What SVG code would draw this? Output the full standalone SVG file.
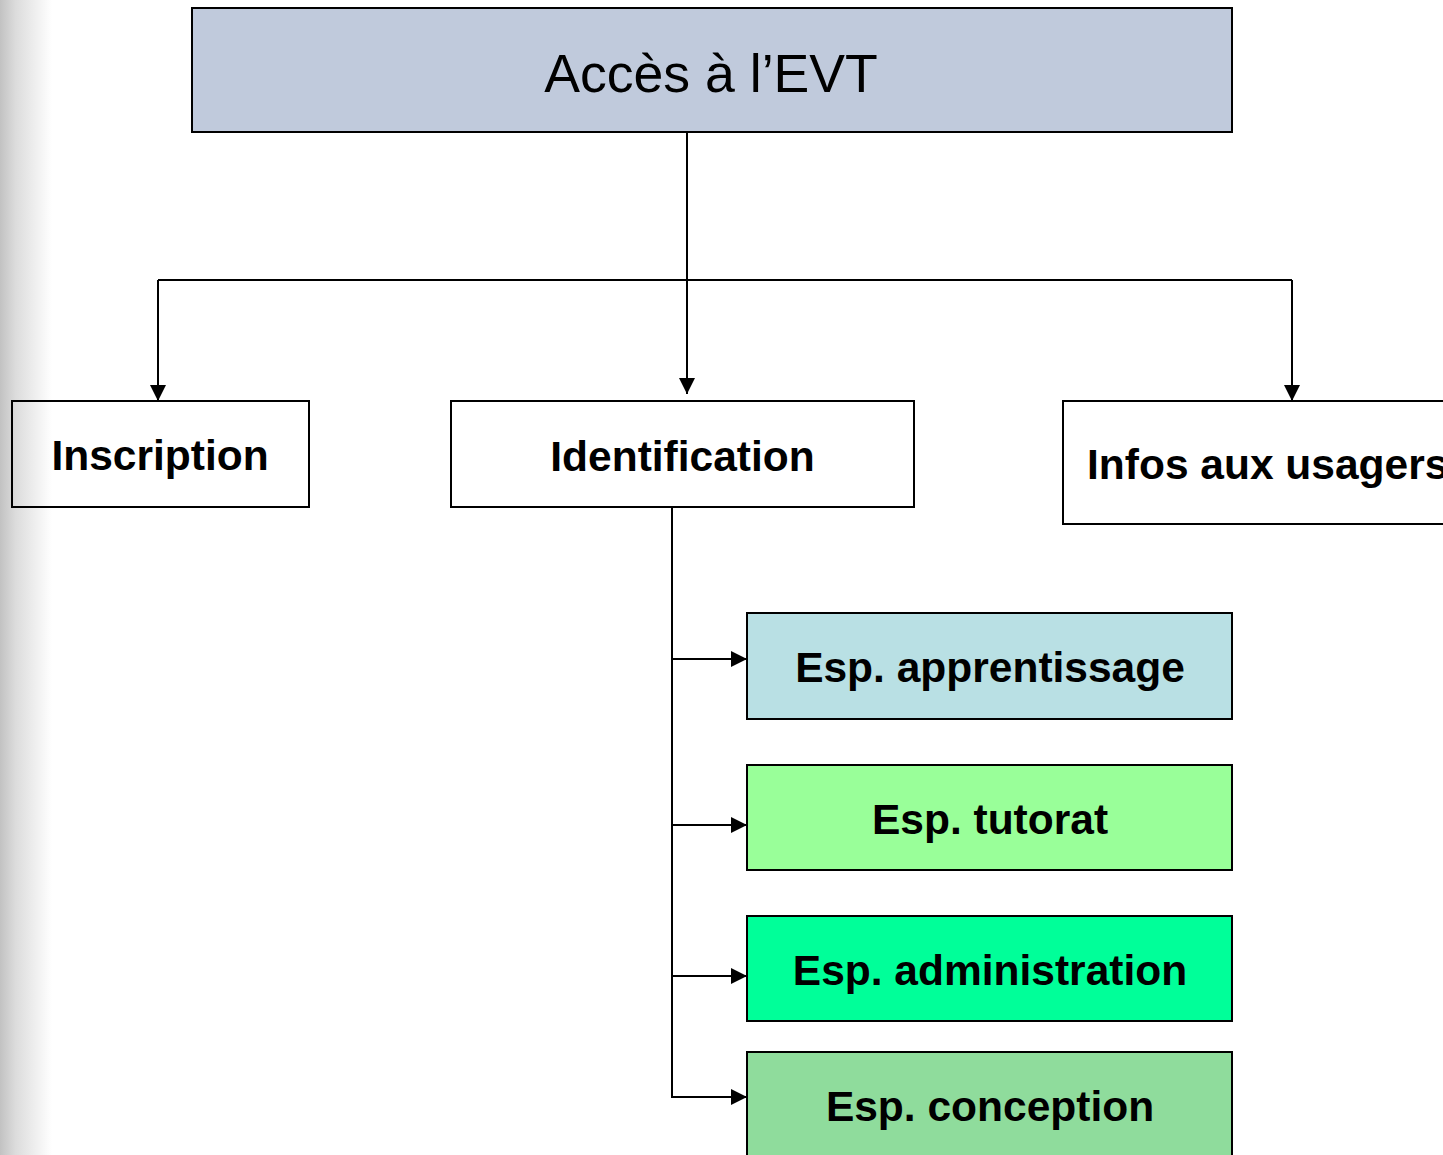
<svg xmlns="http://www.w3.org/2000/svg" width="1443" height="1155" viewBox="0 0 1443 1155">
<defs>
<linearGradient id="edge" x1="0" y1="0" x2="1" y2="0">
<stop offset="0" stop-color="#c2c2c2"/>
<stop offset="0.3" stop-color="#dcdcdc"/>
<stop offset="1" stop-color="#ffffff"/>
</linearGradient>
<marker id="arr" markerUnits="userSpaceOnUse" markerWidth="16" markerHeight="16" refX="16" refY="8" orient="auto">
<path d="M0,0 L16,8 L0,16 z" fill="#000"/>
</marker>
<style>
.box{stroke:#000;stroke-width:2}
.lbl{font-family:"Liberation Sans",Arial,sans-serif;font-weight:bold;font-size:42.5px;fill:#000;text-anchor:middle}
.title{font-family:"Liberation Sans",Arial,sans-serif;font-size:53.6px;fill:#000;text-anchor:middle}
.con{fill:none;stroke:#000;stroke-width:2}
</style>
</defs>
<rect x="0" y="0" width="1443" height="1155" fill="#fff"/>
<rect x="0" y="0" width="52" height="1155" fill="url(#edge)"/>
<g id="connectors">
<path class="con" d="M687,132 V394" marker-end="url(#arr)"/>
<path class="con" d="M158,280 H1292"/>
<path class="con" d="M158,280 V401" marker-end="url(#arr)"/>
<path class="con" d="M1292,280 V401" marker-end="url(#arr)"/>
<path class="con" d="M672,507 V1097 H747" marker-end="url(#arr)"/>
<path class="con" d="M672,659 H747" marker-end="url(#arr)"/>
<path class="con" d="M672,825 H747" marker-end="url(#arr)"/>
<path class="con" d="M672,976 H747" marker-end="url(#arr)"/>
</g>
<g id="acces">
<rect class="box" x="192" y="8" width="1040" height="124" fill="#c0cadc"/>
<text class="title" x="711" y="92">Accès à l’EVT</text>
</g>
<g id="inscription">
<rect class="box" x="12" y="401" width="297" height="106" fill="none"/>
<text class="lbl" x="160" y="470">Inscription</text>
</g>
<g id="identification">
<rect class="box" x="451" y="401" width="463" height="106" fill="none"/>
<text class="lbl" x="682.5" y="471">Identification</text>
</g>
<g id="infos">
<rect class="box" x="1063" y="401" width="410" height="123" fill="#fff"/>
<text class="lbl" x="1087" y="479" style="text-anchor:start">Infos aux usagers</text>
</g>
<g id="apprentissage">
<rect class="box" x="747" y="613" width="485" height="106" fill="#b9e0e4"/>
<text class="lbl" x="990" y="682">Esp. apprentissage</text>
</g>
<g id="tutorat">
<rect class="box" x="747" y="765" width="485" height="105" fill="#99ff99"/>
<text class="lbl" x="990" y="834">Esp. tutorat</text>
</g>
<g id="administration">
<rect class="box" x="747" y="916" width="485" height="105" fill="#00ff99"/>
<text class="lbl" x="990" y="985">Esp. administration</text>
</g>
<g id="conception">
<rect class="box" x="747" y="1052" width="485" height="110" fill="#8fdc9c"/>
<text class="lbl" x="990" y="1121">Esp. conception</text>
</g>
</svg>
